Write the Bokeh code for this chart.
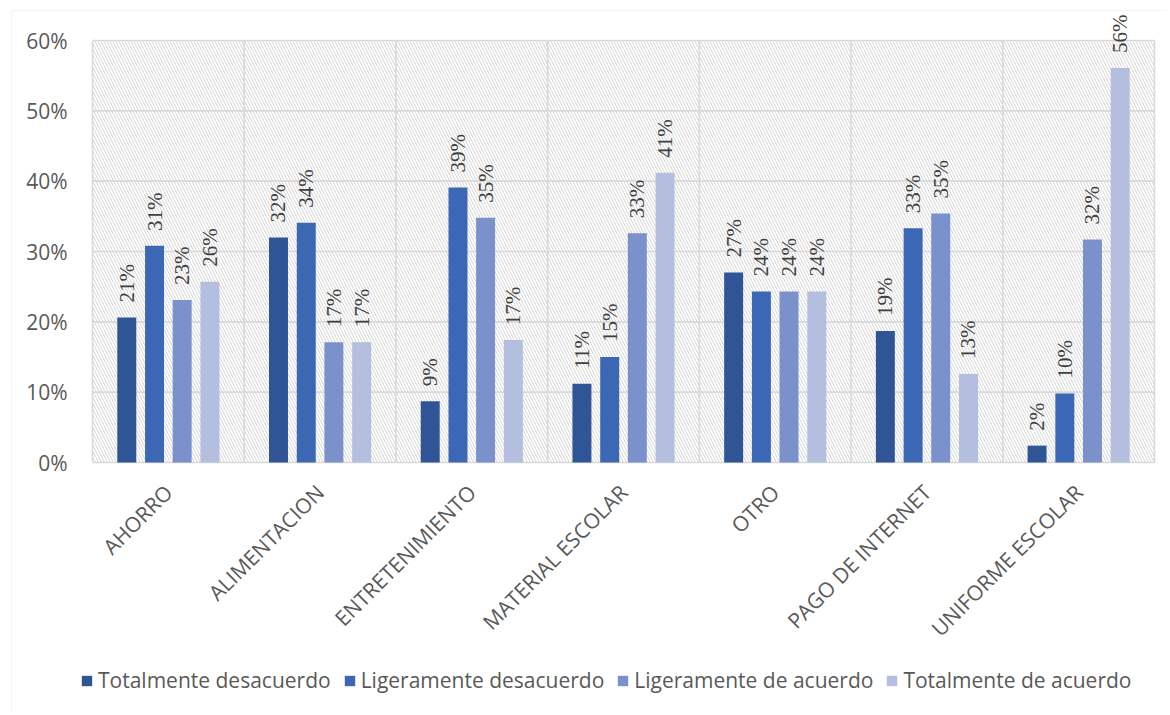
import math
from bokeh.plotting import figure
from bokeh.models import (Range1d, FixedTicker, NumeralTickFormatter, BoxAnnotation,
                          Legend, LegendItem, ColumnDataSource, LabelSet)
from bokeh.embed import file_html
from bokeh.resources import INLINE

categories = ["AHORRO", "ALIMENTACION", "ENTRETENIMIENTO", "MATERIAL ESCOLAR",
              "OTRO", "PAGO DE INTERNET", "UNIFORME ESCOLAR"]
series_names = ["Totalmente desacuerdo", "Ligeramente desacuerdo",
                "Ligeramente de acuerdo", "Totalmente de acuerdo"]
totalmente_desacuerdo = [20.6, 32.0, 8.7, 11.2, 27.0, 18.7, 2.4]
ligeramente_desacuerdo = [30.8, 34.1, 39.1, 15.0, 24.3, 33.3, 9.8]
ligeramente_de_acuerdo = [23.1, 17.1, 34.8, 32.6, 24.3, 35.4, 31.7]
totalmente_de_acuerdo = [25.7, 17.1, 17.4, 41.2, 24.3, 12.6, 56.1]
y_ticks = [0, 0.1, 0.2, 0.3, 0.4, 0.5, 0.6]

series_values = [totalmente_desacuerdo, ligeramente_desacuerdo,
                 ligeramente_de_acuerdo, totalmente_de_acuerdo]
colors = ["#2F5597", "#3C67B4", "#7A91CC", "#B4BEDF"]
offsets = [-0.274, -0.091, 0.091, 0.274]
bar_w = 0.125

FONT = "Open Sans"
TXT = "#595959"
GRID = "#D9D9D9"

# canvas / plot-area layout in pixels
W, H = 1166, 712
PL, PR, PT, PB = 92, 1154, 40, 462
n = len(categories)
ymax = y_ticks[-1]
sx = (PR - PL) / n
sy = (PB - PT) / ymax
x_start = -PL / sx
x_end = x_start + W / sx
y_end = ymax + PT / sy
y_start = y_end - H / sy

p = figure(frame_width=W, frame_height=H, x_range=Range1d(x_start, x_end),
           y_range=Range1d(y_start, y_end), output_backend="svg",
           toolbar_location=None, min_border=0, background_fill_color="white",
           border_fill_color="white")
p.outline_line_color = None
p.grid.visible = False

# outer chart border
p.add_layout(BoxAnnotation(left=x_start + 11 / sx, right=x_end + 1,
                           top=y_end - 10 / sy, bottom=y_start - 1,
                           fill_alpha=0, line_color=GRID, line_width=1.2,
                           level="image"))
# hatched plot area
p.add_layout(BoxAnnotation(left=0, right=n, bottom=0, top=ymax, level="image",
                           fill_color="white", fill_alpha=1.0, line_color=None,
                           hatch_pattern="left_diagonal_line", hatch_color="#D6D6D6",
                           hatch_scale=6, hatch_weight=1))

# gridlines (horizontal at ticks, vertical at category boundaries)
hg = p.segment(x0=[0] * len(y_ticks), x1=[n] * len(y_ticks), y0=y_ticks, y1=y_ticks,
               line_color=GRID, line_width=1.6)
vg = p.segment(x0=list(range(n + 1)), x1=list(range(n + 1)), y0=[0] * (n + 1),
               y1=[ymax] * (n + 1), line_color=GRID, line_width=1.6)
hg.level = "underlay"
vg.level = "underlay"

centers = [i + 0.5 for i in range(n)]
p.xaxis.fixed_location = 0
p.yaxis.fixed_location = 0
p.xaxis.ticker = FixedTicker(ticks=centers)
p.xaxis.major_label_overrides = {c: cat for c, cat in zip(centers, categories)}
p.xaxis.major_label_orientation = math.pi / 4
p.yaxis.ticker = FixedTicker(ticks=y_ticks)
p.yaxis.formatter = NumeralTickFormatter(format="0%")
for ax in (p.xaxis, p.yaxis):
    ax.axis_line_color = None
    ax.major_tick_line_color = None
    ax.minor_tick_line_color = None
    ax.major_label_text_font = FONT
    ax.major_label_text_color = TXT
    ax.major_label_text_font_size = "21px"
p.yaxis.major_label_standoff = 19
p.xaxis.major_label_standoff = 20

items = []
for j, (name, vals) in enumerate(zip(series_names, series_values)):
    src = ColumnDataSource(dict(
        x=[i + 0.5 + offsets[j] for i in range(n)],
        top=[v / 100 for v in vals],
        lab=[f"{v:.0f}%" for v in vals],
    ))
    r = p.vbar(x="x", top="top", width=bar_w, bottom=0, source=src,
               fill_color=colors[j], line_color=None)
    p.add_layout(LabelSet(x="x", y="top", text="lab", source=src, angle=math.pi / 2,
                          text_align="left", text_baseline="middle", y_offset=15,
                          text_font=FONT, text_font_size="21px",
                          text_color="#404040"))
    items.append(LegendItem(label=name, renderers=[r]))

legend = Legend(items=items, orientation="horizontal", location=(80, 18),
                label_text_font=FONT, label_text_font_size="21px",
                label_text_color=TXT, glyph_width=13, glyph_height=13,
                label_standoff=5, spacing=12, border_line_color=None,
                background_fill_alpha=0, margin=0, padding=0)
p.add_layout(legend, "center")

open("out.html", "w").write(file_html(p, INLINE))
